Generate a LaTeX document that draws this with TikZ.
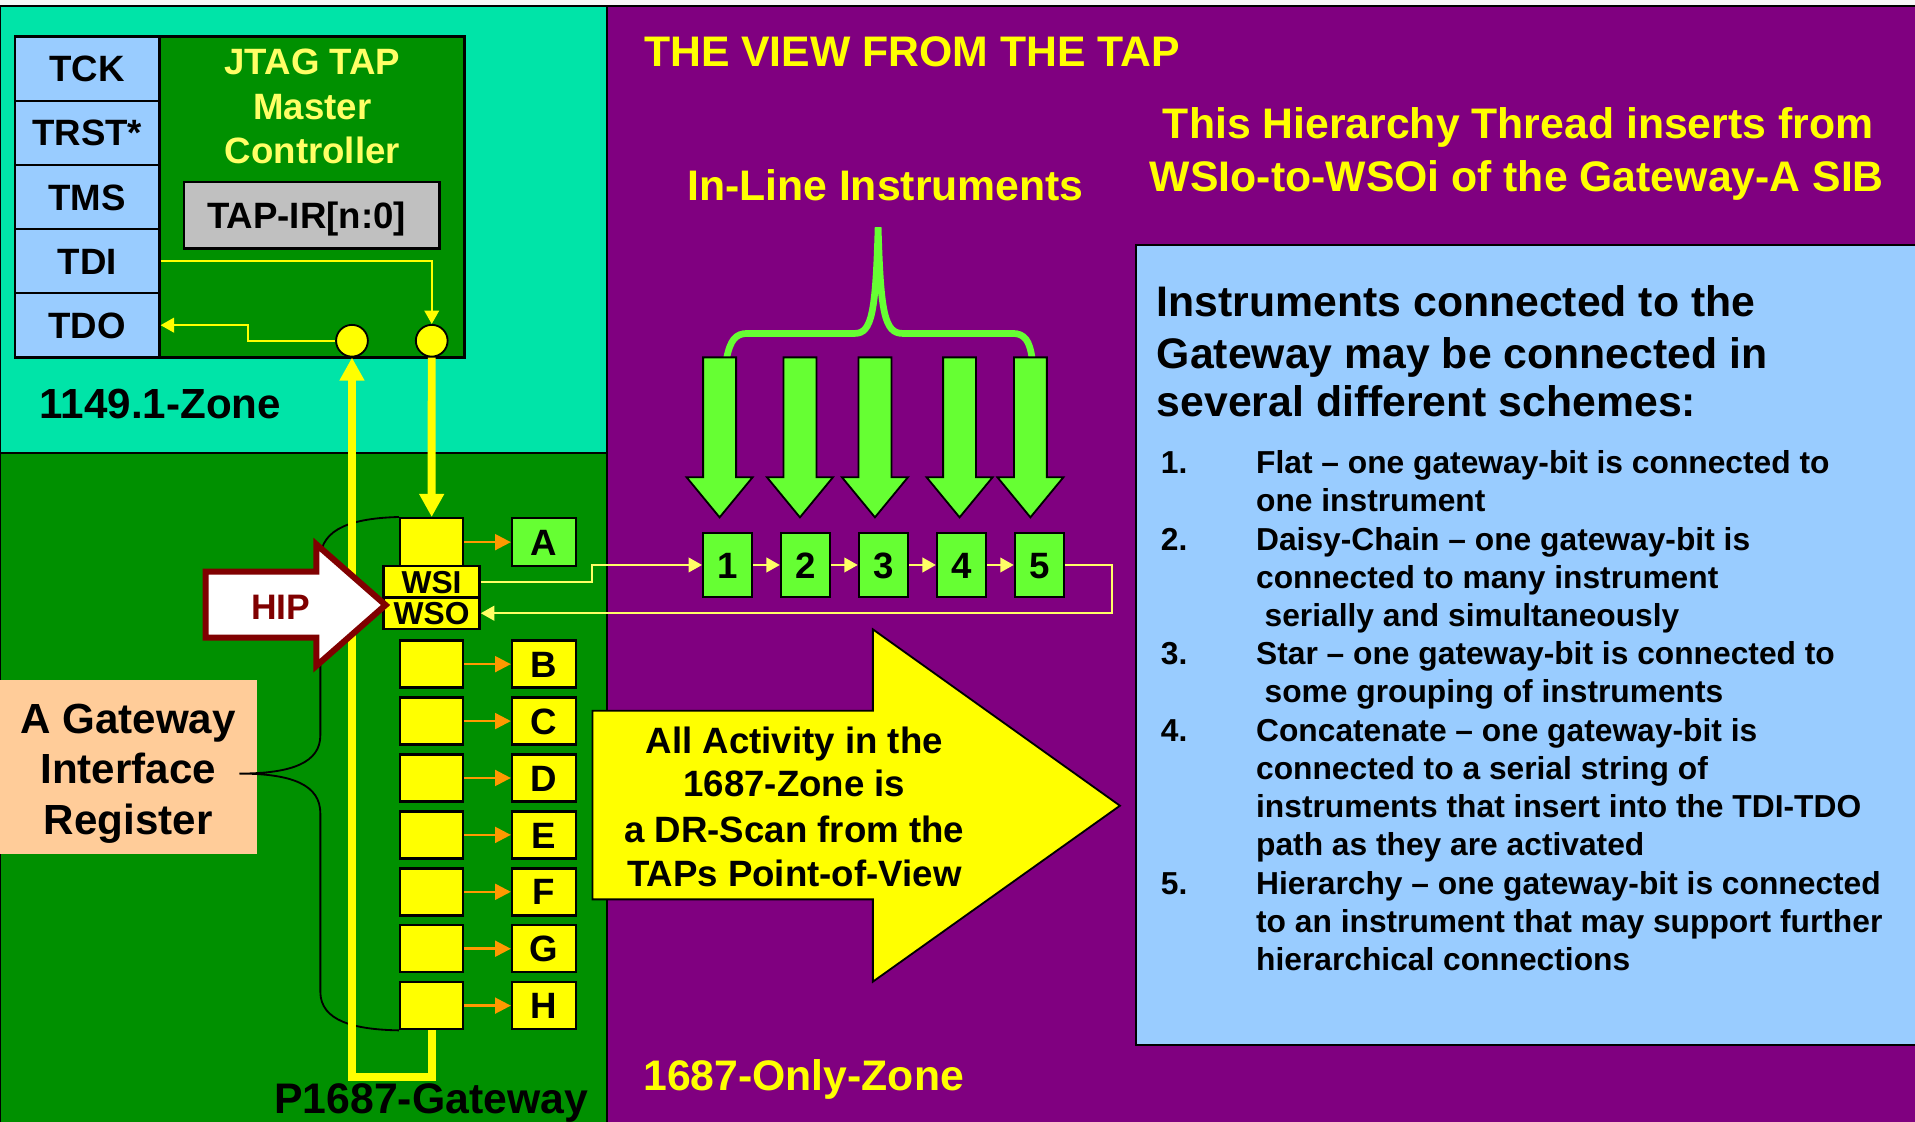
\documentclass[tikz,border=0pt]{standalone}
\usepackage{fontspec}
\setmainfont{Liberation Sans}
\usetikzlibrary{arrows.meta}
\definecolor{tealz}{HTML}{00E4A8}
\definecolor{dgreen}{HTML}{009000}
\definecolor{purp}{HTML}{800080}
\definecolor{lblue}{HTML}{99CCFF}
\definecolor{yel}{HTML}{FFFF00}
\definecolor{lyel}{HTML}{FFFF66}
\definecolor{lgreen}{HTML}{66FF33}
\definecolor{peach}{HTML}{FFCC99}
\definecolor{greyb}{HTML}{C0C0C0}
\definecolor{hipred}{HTML}{800000}
\definecolor{orng}{HTML}{FF9900}
\newcommand\fsz[1]{\fontsize{#1}{#1}\selectfont\bfseries}
\begin{document}
\begin{tikzpicture}[x=1pt,y=-1pt,
 t35/.style={inner sep=0pt, font=\fsz{35}, text height=25pt, text depth=0pt},
 t34/.style={inner sep=0pt, font=\fsz{34.5}, text height=24.7pt, text depth=0pt},
 t30/.style={inner sep=0pt, font=\fsz{30}, text height=21.5pt, text depth=0pt},
 t29/.style={inner sep=0pt, font=\fsz{29}, text height=20.8pt, text depth=0pt},
 t26/.style={inner sep=0pt, font=\fsz{26}, text height=18.6pt, text depth=0pt},
 pinbox/.style={draw=black, line width=2pt, fill=lblue, minimum width=118.2pt, minimum height=52.5pt, t30},
 cellbox/.style={draw=black, line width=2pt, fill=yel, minimum width=51.7pt, minimum height=38.5pt, inner sep=0pt},
 ibox/.style={draw=black, line width=2pt, fill=yel, minimum width=52.4pt, minimum height=38.5pt, t30},
 wbox/.style={draw=black, line width=2pt, fill=yel, minimum width=78.7pt, minimum height=25.8pt, t26},
 numbox/.style={draw=black, line width=2pt, fill=lgreen, minimum width=40pt, minimum height=52.8pt, t30},
 thin/.style={line width=1.6pt, -{Triangle[width=12pt,length=11pt]}},
 thick/.style={yel, line width=6.5pt, -{Triangle[width=19.4pt,length=19pt]}},
 oarrow/.style={orng, line width=2pt, -{Triangle[width=13pt,length=13pt]}},
 pin/.style={circle, draw=black, line width=1.5pt, fill=yel, minimum size=26pt, inner sep=0pt}
]
\useasboundingbox (0,0) rectangle (1568,918);
\clip (0,0) rectangle (1568,918);
% backgrounds
\fill[white!94!gray] (0,0) rectangle (1568,4.6);
\draw[black, line width=1.5pt, fill=purp] (497,4.6) rectangle (1575,925);
\draw[black, line width=1.5pt, fill=tealz] (0,4.6) rectangle (497,371);
\draw[black, line width=1.5pt, fill=dgreen] (0,371) rectangle (497,925);

% JTAG controller
\draw[black, line width=2pt, fill=dgreen] (12.3,30) rectangle (380.4,292.6);
\node[pinbox] (TCK) at (71.4,56.25) {TCK};
\node[pinbox] (TRST) at (71.4,108.75) {TRST*};
\node[pinbox] (TMS) at (71.4,161.25) {TMS};
\node[pinbox] (TDI) at (71.4,213.75) {TDI};
\node[pinbox] (TDO) at (71.4,266.25) {TDO};
\node[t30, text=lyel] (j1) at (255.8,50.5) {JTAG TAP};
\node[t30, text=lyel] (j2) at (255.8,86.8) {Master};
\node[t30, text=lyel] (j3) at (255.8,122.8) {Controller};
\draw[black, line width=2pt, fill=greyb] (150.6,148.8) rectangle (360,203.3);
\node[t30] (tapir) at (251,176) {TAP-IR[n:0]};
\node[t34, anchor=west] (zone1) at (32.4,330.2) {1149.1-Zone};

\node[pin] (cL) at (288.2,279) {};
\node[pin] (cR) at (353.5,279) {};
\coordinate (tdobend) at (203,279);
\draw[yel, thin] (TDI.east) -| (cR.north);
\draw[yel, thin] (cL.west) -- (tdobend) |- (TDO.east);

% gateway register cells
\node[cellbox, minimum height=39.2pt] (gA) at (353.45,443.9) {};
\node[wbox] (WSI) at (353.35,476.3) {WSI};
\node[wbox] (WSO) at (353.35,502.1) {WSO};
\foreach \L/\yy in {B/543.8,C/590.4,D/637,E/683.6,F/730.2,G/776.8,H/823.4}{
  \node[cellbox] (g\L) at (353.45,\yy) {};
  \node[ibox] (i\L) at (445.5,\yy) {\L};
}
\node[ibox, fill=lgreen, minimum height=39.2pt] (iA) at (445.5,443.9) {A};
\foreach \L in {A,B,C,D,E,F,G,H}
  \draw[oarrow] (g\L.east) -- (i\L.west);

% peach label and brace
\fill[peach] (0,557) rectangle (210.5,699);
\node[t34] (gi1) at (104.9,588) {A Gateway};
\node[t34] (gi2) at (104.9,629.5) {Interface};
\node[t34] (gi3) at (104.9,670.8) {Register};
\draw[black, line width=1.5pt] (gA.north west) .. controls (290,424.3) and (262.3,432) .. (262.3,458)
  -- (262.3,602) .. controls (262.3,624) and (240,633.4) .. (196,633.4)
  .. controls (240,633.4) and (262.3,643) .. (262.3,666)
  -- (262.3,812) .. controls (262.3,836) and (290,843) .. (gH.south west);

% thick TDI-TDO path
\draw[thick] (cR.south) -- (gA.north);
\draw[thick] (gH.south) -- ++(0,38) -| (cL.south);

% HIP arrow
\draw[hipred, line width=5pt, fill=white, line join=miter]
  (168.4,468) -- (259,468) -- (259,445.7) -- (315.7,495.4) -- (259,545.2) -- (259,522.1) -- (168.4,522.1) -- cycle;
\node[t29, text=hipred] (hip) at (229.9,497.2) {HIP};

% in-line instruments
\draw[lgreen, line width=5.5pt] (595,293) .. controls (598,279) and (602,273) .. (612,273) -- (700,273)
  .. controls (714,273) and (717,255) .. (719,186)
  .. controls (721,255) and (724,273) .. (739,273) -- (829,273)
  .. controls (839,273) and (843,279) .. (845,293);
\foreach \c in {589.2,655,716.4,785.7,843.7}
  \draw[black, line width=1.5pt, fill=lgreen, line join=miter]
    (\c-13.5,292.6) -- (\c+13.5,292.6) -- (\c+13.5,390.8) -- (\c+27,390.8) -- (\c,423.6)
    -- (\c-27,390.8) -- (\c-13.5,390.8) -- cycle;
\node[numbox] (n1) at (595.8,462.6) {1};
\node[numbox] (n2) at (659.5,462.6) {2};
\node[numbox] (n3) at (723.3,462.6) {3};
\node[numbox] (n4) at (787.3,462.6) {4};
\node[numbox] (n5) at (851,462.6) {5};
\coordinate (bendA) at (484.7,476.3);
\coordinate (bendB) at (910.6,462.6);
\draw[lyel, thin] (WSI.east) -- (bendA) |- (n1.west);
\draw[lyel, thin] (n1.east) -- (n2.west);
\draw[lyel, thin] (n2.east) -- (n3.west);
\draw[lyel, thin] (n3.east) -- (n4.west);
\draw[lyel, thin] (n4.east) -- (n5.west);
\draw[lyel, thin] (n5.east) -- (bendB) |- (WSO.east);

% big yellow arrow
\draw[black, line width=1.5pt, fill=yel, line join=miter]
  (485.1,581.9) -- (714.7,581.9) -- (714.7,515.3) -- (917,659.7) -- (714.7,803.8) -- (714.7,736.4) -- (485.1,736.4) -- cycle;
\node[t30] (b1) at (650.4,605.9) {All Activity in the};
\node[t30] (b2) at (650.4,641.4) {1687-Zone is};
\node[t30] (b3) at (650.4,679) {a DR-Scan from the};
\node[t30] (b4) at (650.4,715.1) {TAPs Point-of-View};

% titles
\node[t35, text=yel, anchor=west] (title) at (527.2,42.3) {THE VIEW FROM THE TAP};
\node[t35, text=yel] (h1) at (1243,101) {This Hierarchy Thread inserts from};
\node[t35, text=yel] (h2) at (1242,144.7) {WSIo-to-WSOi of the Gateway-A SIB};
\node[t35, text=yel] (inl) at (725,151.5) {In-Line Instruments};
\node[t35, text=yel] (oz) at (658,880.2) {1687-Only-Zone};
\node[t35] (pg) at (353,899) {P1687-Gateway};

% info box
\draw[black, line width=2pt, fill=lblue] (930.3,200.6) rectangle (1580,855.7);
\node[t35, anchor=west] (q1) at (947,247) {Instruments connected to the};
\node[t35, anchor=west] (q2) at (947,289.3) {Gateway may be connected in};
\node[t35, anchor=west] (q3) at (947,328.9) {several different schemes:};
\foreach \yy/\nm [count=\k] in {378.5/1.,441.1/2.,535.0/3.,597.6/4.,722.8/5.}
  \node[t26, anchor=west] (N\k) at (950.3,\yy) {\nm};
\foreach \yy/\tx [count=\k] in {
 378.5/{Flat – one gateway-bit is connected to},
 409.8/{one instrument},
 441.1/{Daisy-Chain – one gateway-bit is},
 472.4/{connected to many instrument},
 503.7/{\hspace{7pt}serially and simultaneously},
 535.0/{Star – one gateway-bit is connected to},
 566.3/{\hspace{7pt}some grouping of instruments},
 597.6/{Concatenate – one gateway-bit is},
 628.9/{connected to a serial string of},
 660.2/{instruments that insert into the TDI-TDO},
 691.5/{path as they are activated},
 722.8/{Hierarchy – one gateway-bit is connected},
 754.1/{to an instrument that may support further},
 785.4/{hierarchical connections}}
  \node[t26, anchor=west] (L\k) at (1028.3,\yy) {\tx};
\end{tikzpicture}
\end{document}
